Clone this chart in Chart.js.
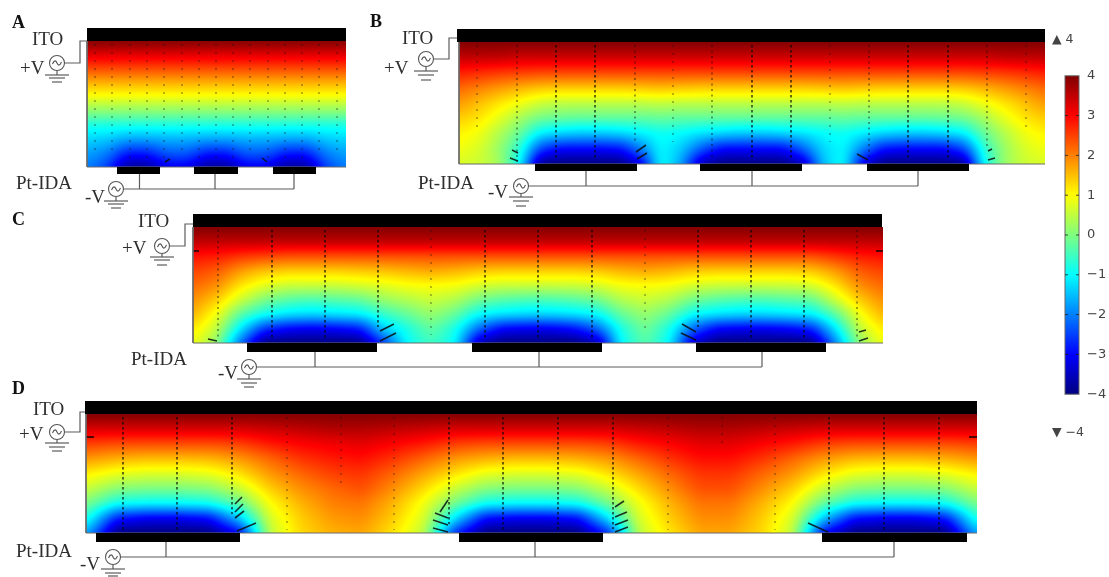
<!DOCTYPE html>
<html>
<head>
<meta charset="utf-8">
<script src="https://cdn.jsdelivr.net/npm/chart.js@4"></script>
<style>
html, body { margin: 0; padding: 0; background: #fff; }
#page { position: relative; width: 1109px; height: 577px; overflow: hidden; filter: blur(0.45px); }
#page canvas { position: absolute; }
.lbl { position: absolute; transform: translateY(-50%); white-space: nowrap; font-family: "Liberation Serif", serif; font-size: 19px; color: #2e2e2e; }
.pan { font-weight: bold; color: #111; font-size: 18px; }
.mm { font-family: "DejaVu Sans", sans-serif; font-size: 12.5px; color: #444; }
</style>
</head>
<body>
<div id="page"></div>
<script>
// potential (V), rows top -> bottom
var colsA = [0,20,40,60,80,100,120,139,159,179,199,219,239,259];
var rowsA = [0,14,28,42,56,70,84,98,112,126];
var fieldA = [
  [4,4,4,4,4,4,4,4,4,4,4,4,4,4],
  [3.2,3.2,3.2,3.2,3.2,3.2,3.2,3.2,3.2,3.2,3.2,3.2,3.2,3.2],
  [2.4,2.4,2.4,2.4,2.4,2.4,2.4,2.4,2.4,2.4,2.4,2.4,2.4,2.4],
  [1.6,1.6,1.6,1.6,1.6,1.6,1.6,1.6,1.6,1.6,1.6,1.6,1.6,1.6],
  [0.9,0.9,0.9,0.9,0.9,0.9,0.9,0.9,0.9,0.9,0.9,0.9,0.9,0.9],
  [0.1,0.1,0.1,0.1,0.1,0.1,0.1,0.1,0.1,0.1,0.1,0.1,0.1,0.1],
  [-0.8,-0.8,-0.8,-0.8,-0.8,-0.8,-0.8,-0.8,-0.8,-0.8,-0.8,-0.8,-0.8,-0.8],
  [-1.3,-1.4,-1.7,-1.7,-1.6,-1.6,-1.7,-1.7,-1.6,-1.6,-1.7,-1.7,-1.4,-1.3],
  [-1.7,-2,-2.8,-2.8,-2.3,-2.3,-2.8,-2.8,-2.3,-2.3,-2.8,-2.8,-2,-1.7],
  [-2,-2.5,-3.8,-3.8,-3.1,-3.1,-3.8,-3.8,-3.1,-3.1,-3.8,-3.8,-2.5,-2]
];

var colsB = [0,20,40,61,81,101,121,141,162,182,202,222,242,263,283,303,323,343,364,384,404,424,444,465,485,505,525,545,566,586];
var rowsB = [0,15,30,46,61,76,91,107,122];
var fieldB = [
  [4,4,4,4,4,4,4,4,4,4,4,4,4,4,4,4,4,4,4,4,4,4,4,4,4,4,4,4,4,4],
  [3.5,3.5,3.5,3.4,3.4,3.4,3.4,3.4,3.4,3.4,3.4,3.4,3.4,3.4,3.4,3.4,3.4,3.4,3.4,3.4,3.4,3.4,3.4,3.4,3.4,3.4,3.4,3.5,3.5,3.5],
  [2.8,2.7,2.6,2.55,2.5,2.5,2.5,2.5,2.5,2.5,2.5,2.5,2.5,2.5,2.5,2.5,2.5,2.5,2.5,2.5,2.5,2.5,2.5,2.5,2.5,2.5,2.55,2.6,2.7,2.8],
  [2.2,2,1.8,1.6,1.45,1.4,1.4,1.4,1.4,1.45,1.5,1.45,1.4,1.4,1.4,1.4,1.4,1.4,1.45,1.5,1.45,1.4,1.4,1.4,1.4,1.45,1.6,1.8,2,2.2],
  [1.8,1.5,1.2,0.9,0.6,0.5,0.5,0.5,0.5,0.5,0.55,0.5,0.5,0.5,0.5,0.5,0.5,0.5,0.5,0.55,0.5,0.5,0.5,0.5,0.5,0.6,0.9,1.2,1.5,1.8],
  [1.4,1.2,0.8,0.3,-0.1,-0.2,-0.25,-0.25,-0.25,-0.25,-0.2,-0.25,-0.25,-0.25,-0.25,-0.25,-0.25,-0.25,-0.25,-0.2,-0.25,-0.25,-0.25,-0.25,-0.2,-0.1,0.3,0.8,1.2,1.4],
  [1.1,0.9,0.4,-0.2,-1.1,-1.3,-1.4,-1.4,-1.3,-1.1,-0.9,-1,-1.2,-1.3,-1.4,-1.4,-1.3,-1.2,-1,-0.9,-1.1,-1.3,-1.4,-1.4,-1.3,-1.1,-0.2,0.4,0.9,1.1],
  [0.9,0.7,0.2,-0.7,-2.5,-3,-3,-3,-2.9,-2,-1,-1.4,-2.3,-3,-3,-3,-3,-2.3,-1.3,-1,-2,-2.9,-3,-3,-3,-2.5,-0.7,0.2,0.7,0.9],
  [0.7,0.6,0.3,-1,-3.9,-4,-4,-4,-4,-3.2,-0.9,-1.7,-3.6,-4,-4,-4,-4,-3.6,-1.5,-0.9,-3.2,-4,-4,-4,-4,-3.9,-1,0.2,0.6,0.7]
];

var colsC = [0,24,48,71,95,119,143,167,190,214,238,262,286,309,333,357,381,405,428,452,476,500,524,547,571,595,619,642,666,690];
var rowsC = [0,14.5,29,43.5,58,72.5,87,101.5,116];
var fieldC = [
  [4,4,4,4,4,4,4,4,4,4,4,4,4,4,4,4,4,4,4,4,4,4,4,4,4,4,4,4,4,4],
  [3.5,3.5,3.5,3.5,3.5,3.5,3.5,3.5,3.5,3.5,3.5,3.5,3.5,3.5,3.5,3.5,3.5,3.5,3.5,3.5,3.5,3.5,3.5,3.5,3.5,3.5,3.5,3.5,3.5,3.5],
  [2.9,2.8,2.6,2.5,2.4,2.4,2.4,2.4,2.4,2.4,2.4,2.4,2.4,2.4,2.4,2.4,2.4,2.4,2.4,2.4,2.4,2.4,2.4,2.4,2.4,2.4,2.4,2.6,2.8,2.9],
  [2.5,2.3,1.8,1.5,1.4,1.4,1.4,1.45,1.5,1.6,1.7,1.6,1.45,1.4,1.4,1.4,1.4,1.45,1.6,1.7,1.6,1.45,1.4,1.4,1.4,1.4,1.45,1.8,2.3,2.5],
  [2.2,1.9,1.2,0.8,0.6,0.6,0.6,0.7,0.8,0.95,1,0.95,0.7,0.6,0.6,0.6,0.6,0.7,0.95,1,0.95,0.7,0.6,0.6,0.6,0.6,0.7,1.2,1.9,2.2],
  [1.9,1.4,0.6,0,-0.3,-0.4,-0.3,-0.2,0.2,0.4,0.6,0.4,-0.1,-0.3,-0.4,-0.4,-0.3,-0.1,0.4,0.6,0.4,-0.1,-0.3,-0.4,-0.4,-0.3,-0.2,0.6,1.4,1.9],
  [1.6,0.9,-0.3,-0.9,-1.2,-1.3,-1.2,-1.1,-0.6,-0.2,0.2,-0.2,-1,-1.2,-1.3,-1.3,-1.2,-1,-0.2,0.2,-0.2,-1,-1.2,-1.3,-1.3,-1.2,-1.1,-0.3,0.9,1.6],
  [1.2,0.5,-1.2,-2.6,-3,-3.1,-3,-2.8,-1.4,-0.8,-0.2,-0.8,-2.2,-3,-3.1,-3.1,-2.9,-2.2,-0.8,-0.1,-0.8,-2.2,-3,-3.1,-3.1,-3,-2.7,-1.2,0.5,1.2],
  [0.9,0.1,-2.2,-4,-4,-4,-4,-4,-2.6,-1,-0.5,-1,-3.6,-4,-4,-4,-4,-3.6,-1,-0.3,-1,-3.4,-4,-4,-4,-4,-4,-2,0.1,0.9]
];

var colsD = [0,31,61,92,123,154,184,215,246,276,307,338,369,399,430,461,492,522,553,584,614,645,676,707,737,768,799,829,860,891];
var rowsD = [0,15,30,45,60,74,89,104,119];
var fieldD = [
  [4,4,4,4,4,4,4,4,4,4,4,4,4,4,4,4,4,4,4,4,4,4,4,4,4,4,4,4,4,4],
  [3.3,3.3,3.3,3.3,3.3,3.3,3.4,3.5,3.6,3.6,3.5,3.4,3.3,3.3,3.3,3.3,3.3,3.3,3.4,3.5,3.6,3.6,3.5,3.4,3.3,3.3,3.3,3.3,3.3,3.3],
  [2.5,2.4,2.4,2.4,2.4,2.5,2.8,3,3.1,3.2,3,2.8,2.5,2.4,2.4,2.4,2.4,2.5,2.8,3,3.2,3.2,3,2.8,2.5,2.4,2.4,2.4,2.4,2.5],
  [1.8,1.6,1.5,1.5,1.55,1.8,2.2,2.6,2.8,2.9,2.6,2.2,1.8,1.6,1.5,1.5,1.6,1.8,2.2,2.6,2.9,2.9,2.6,2.2,1.8,1.55,1.5,1.5,1.6,1.8],
  [1.1,0.8,0.7,0.7,0.8,1.2,1.8,2.2,2.5,2.6,2.2,1.7,1.2,0.8,0.7,0.7,0.8,1.2,1.7,2.2,2.6,2.6,2.2,1.8,1.2,0.8,0.7,0.7,0.8,1.1],
  [0.6,0.1,0,0,0.1,0.6,1.4,1.9,2.2,2.4,1.9,1.3,0.6,0.1,0,0,0.1,0.6,1.3,1.9,2.4,2.4,1.9,1.4,0.6,0.1,0,0,0.1,0.6],
  [0,-0.9,-1,-1,-0.9,-0.2,1,1.6,2,2.1,1.6,0.9,-0.1,-0.9,-1,-1,-0.9,-0.1,0.9,1.6,2.1,2.1,1.6,1,-0.2,-0.9,-1,-1,-0.9,0],
  [-0.7,-2.8,-3.1,-3.1,-2.9,-1.4,0.7,1.4,1.8,1.9,1.4,0.7,-1.2,-2.9,-3.1,-3.1,-2.9,-1.2,0.7,1.4,1.9,1.9,1.4,0.7,-1.4,-2.9,-3.1,-3.1,-2.8,-0.7],
  [-1.6,-4,-4,-4,-4,-3,0.5,1.3,1.6,1.7,1.2,0.5,-2.7,-4,-4,-4,-4,-2.7,0.5,1.2,1.7,1.7,1.3,0.5,-3,-4,-4,-4,-4,-1.6]
];

// electrode extents along x
var electrodesA = [[30,73],[107,151],[186,229]];
var electrodesB = [[76,178],[241,343],[408,510]];
var electrodesC = [[54,184],[279,409],[503,633]];
var electrodesD = [[10,154],[373,517],[736,881]];

// field arrow columns: x, last y, weight 0 faint / 1 medium / 2 strong
var arrowColsA = [[8,112,0],[25,112,0],[43,118,0],[60,118,0],[77,118,0],[95,112,0],[112,118,0],[129,118,0],[146,118,0],[163,112,0],[181,118,0],[198,118,0],[215,118,0],[232,112,0],[250,112,0]];
var arrowColsB = [[18,85,0],[58,120,1],[97,118,2],[136,118,2],[176,100,1],[214,100,0],[253,118,1],[293,118,2],[332,118,2],[371,100,0],[410,118,1],[449,118,2],[489,118,2],[528,104,1],[567,85,0]];
var arrowColsC = [[25,112,1],[79,113,2],[132,113,2],[185,100,2],[238,108,0],[292,113,2],[345,113,2],[399,113,2],[452,105,0],[505,100,2],[558,113,2],[611,113,2],[664,112,1]];
var arrowColsD = [[37,116,2],[91,116,2],[146,100,2],[201,116,0],[255,72,0],[308,116,0],[363,110,2],[417,116,2],[472,116,2],[527,115,2],[582,116,0],[636,30,0],[689,116,0],[743,110,2],[798,116,2],[853,116,2]];

// slanted arrows near the electrode edges: x1,y1,x2,y2
var slantsA = [[78,121,83,118],[175,117,180,121]];
var slantsB = [[177,110,187,103],[178,117,188,111],[51,116,59,119],[53,108,59,111],[398,112,409,118],[529,118,536,116],[529,109,533,107]];
var slantsC = [[187,104,201,97],[187,114,203,106],[489,97,503,105],[488,106,503,113],[15,112,24,114],[666,114,675,111],[666,105,673,103]];
var slantsD = [[151,117,170,109],[149,104,158,97],[149,98,157,90],[149,90,156,83],[347,106,362,111],[347,114,362,118],[349,99,362,104],[354,98,362,86],[529,111,542,106],[529,118,542,113],[529,103,541,98],[529,93,538,87],[722,109,742,118]];

// colour legend
var colorTicks = [4,3,2,1,0,-1,-2,-3,-4];
var colorValues = [-4,-3,-1,1,3,4];
var colorNames = ['#000080','#0000ff','#00ffff','#ffff00','#ff0000','#800000'];

var labels = [
  ['A',12,22,'pan'],['ITO',32,39],['+V',20,68],['Pt-IDA',16,183],['-V',85,197],
  ['B',370,21,'pan'],['ITO',402,38],['+V',384,68],['Pt-IDA',418,183],['-V',488,192],
  ['C',12,219,'pan'],['ITO',138,221],['+V',122,248],['Pt-IDA',131,359],['-V',218,373],
  ['D',12,388,'pan'],['ITO',33,409],['+V',19,434],['Pt-IDA',16,551],['-V',80,564],
  ['▲ 4',1052,38,'mm'],['▼ −4',1052,431,'mm']
];

var page = document.getElementById('page');

labels.forEach(function(l) {
    var d = document.createElement('div');
    d.className = 'lbl ' + (l[3] || '');
    d.textContent = l[0];
    d.style.left = l[1] + 'px';
    d.style.top = l[2] + 'px';
    page.appendChild(d);
});

function hexRgb(h) {
    return [parseInt(h.substr(1,2),16), parseInt(h.substr(3,2),16), parseInt(h.substr(5,2),16)];
}
var stopRgb = colorNames.map(hexRgb);

function jet(v) {
    if (v <= colorValues[0]) return stopRgb[0];
    for (var i = 1; i < colorValues.length; i++) {
        if (v <= colorValues[i]) {
            var t = (v - colorValues[i-1]) / (colorValues[i] - colorValues[i-1]);
            var a = stopRgb[i-1], b = stopRgb[i];
            return [a[0]+(b[0]-a[0])*t, a[1]+(b[1]-a[1])*t, a[2]+(b[2]-a[2])*t];
        }
    }
    return stopRgb[stopRgb.length-1];
}

// evens out the value grid so the shading is not faceted
function smooth(vals, w, h, rx, ry) {
    var out = new Float32Array(w*h);
    for (var y = 0; y < h; y++) for (var x = 0; x < w; x++) {
        var s = 0, n = 0;
        for (var k = -rx; k <= rx; k++) { s += vals[y*w + Math.min(w-1, Math.max(0, x+k))]; n++; }
        out[y*w+x] = s/n;
    }
    var res = new Float32Array(w*h);
    for (var x2 = 0; x2 < w; x2++) for (var y2 = 0; y2 < h; y2++) {
        var s2 = 0, n2 = 0;
        for (var j = -ry; j <= ry; j++) { s2 += out[Math.min(h-1, Math.max(0, y2+j))*w + x2]; n2++; }
        res[y2*w+x2] = s2/n2;
    }
    return res;
}

// paints dataset 'field' through the chart's scales
var heatPlugin = {
    id: 'heat',
    beforeDatasetsDraw: function(chart) {
        var ds = chart.data.datasets.find(function(d) { return d.heat; });
        if (!ds) return;
        var xs = ds.cols.map(function(c) { return chart.scales.x.getPixelForValue(c); });
        var ys = ds.rows.map(function(r) { return chart.scales.y.getPixelForValue(r); });
        var nc = xs.length;
        var a = chart.chartArea;
        var w = Math.round(a.right - a.left), h = Math.round(a.bottom - a.top);
        var vals = new Float32Array(w*h);
        var jr = 0;
        for (var py = 0; py < h; py++) {
            var Y = a.top + py + 0.5;
            while (jr < ys.length-2 && Y > ys[jr+1]) jr++;
            var ty = Math.min(1, Math.max(0, (Y - ys[jr]) / (ys[jr+1] - ys[jr])));
            var ir = 0;
            for (var px = 0; px < w; px++) {
                var X = a.left + px + 0.5;
                while (ir < nc-2 && X > xs[ir+1]) ir++;
                var tx = Math.min(1, Math.max(0, (X - xs[ir]) / (xs[ir+1] - xs[ir])));
                var v00 = ds.data[jr*nc+ir].v, v10 = ds.data[jr*nc+ir+1].v;
                var v01 = ds.data[(jr+1)*nc+ir].v, v11 = ds.data[(jr+1)*nc+ir+1].v;
                vals[py*w+px] = (v00*(1-tx)+v10*tx)*(1-ty) + (v01*(1-tx)+v11*tx)*ty;
            }
        }
        vals = smooth(smooth(vals, w, h, 6, 3), w, h, 5, 2);
        var off = document.createElement('canvas');
        off.width = w; off.height = h;
        var oc = off.getContext('2d');
        var img = oc.createImageData(w, h);
        for (var i = 0; i < w*h; i++) {
            var c = jet(vals[i]);
            img.data[i*4] = c[0]; img.data[i*4+1] = c[1]; img.data[i*4+2] = c[2]; img.data[i*4+3] = 255;
        }
        oc.putImageData(img, 0, 0);
        chart.ctx.drawImage(off, a.left, a.top);
    },
    // points outside the chart area are skipped by the library, so the AC sources go here
    afterDatasetsDraw: function(chart) {
        chart.data.datasets.forEach(function(d) {
            if (!d.source) return;
            d.data.forEach(function(p) {
                var px = chart.scales.x.getPixelForValue(p.x);
                var py = chart.scales.y.getPixelForValue(p.y);
                chart.ctx.drawImage(symbol, px - 9, py - 9);
            });
        });
    }
};

// symbol of the AC source
function sourceSymbol() {
    var c = document.createElement('canvas');
    c.width = 18; c.height = 18;
    var g = c.getContext('2d');
    g.strokeStyle = '#555';
    g.lineWidth = 1.1;
    g.fillStyle = '#fff';
    g.beginPath(); g.arc(9, 9, 7.5, 0, Math.PI*2); g.fill(); g.stroke();
    g.beginPath();
    g.moveTo(4.5, 10);
    g.bezierCurveTo(6.5, 5.5, 8, 6.5, 9, 9);
    g.bezierCurveTo(10, 11.5, 11.5, 12.5, 13.5, 8);
    g.stroke();
    return c;
}
var symbol = sourceSymbol();

function line(points, color, width, dash) {
    return { data: points.map(function(p) { return {x:p[0], y:p[1]}; }), showLine: true, pointRadius: 0,
             borderColor: color, borderWidth: width, borderDash: dash || [], clip: false,
             borderCapStyle: 'butt', tension: 0 };
}

function buildPanel(p) {
    var data = [];
    p.rows.forEach(function(r, j) {
        p.cols.forEach(function(c, i) { data.push({x:c, y:r, v:p.field[j][i]}); });
    });
    var W = p.cols[p.cols.length-1], H = p.rows[p.rows.length-1];
    var sets = [];
    var wire = '#5c5c5c';

    sets.push({ source: true, data: [{x:p.top[0], y:p.top[1]}, {x:p.bottom[0], y:p.bottom[1]}], showLine: false, pointRadius: 0 });

    p.slants.forEach(function(s) {
        sets.push(line([[s[0],s[1]],[s[2],s[3]]], 'rgba(10,15,15,0.85)', 1.6));
    });
    p.arrows.forEach(function(a) {
        var style = [['rgba(20,20,20,0.5)',1.2,[2,6]], ['rgba(15,15,15,0.6)',1.3,[2,3.5]], ['rgba(5,10,10,0.75)',1.6,[2.5,2.5]]][a[2]];
        sets.push(line([[a[0],3],[a[0],a[1]]], style[0], style[1], style[2]));
    });

    // ITO plate and IDA electrodes
    sets.push(line([[p.itoFrom,-p.itoH/2],[W+p.itoExtra,-p.itoH/2]], '#000', p.itoH));
    p.electrodes.forEach(function(e) {
        sets.push(line([[e[0],H+p.elecH/2],[e[1],H+p.elecH/2]], '#000', p.elecH));
    });

    // outline of the cell
    sets.push(line([[0,0],[0,H],[W,H]], '#6a6a6a', 1));

    // wiring, plate end first: a left to right list gets trimmed at the scale minimum
    sets.push(line([[p.itoFrom,p.topJoin],[p.topBend,p.topJoin],[p.topBend,p.top[1]],[p.top[0]+8,p.top[1]]], wire, 1.2));
    sets.push(line([[p.bottom[0]+8,p.bottom[1]],[p.stems[2],p.bottom[1]]], wire, 1.2));
    p.stems.forEach(function(s) {
        sets.push(line([[s,H+p.elecH],[s,p.bottom[1]]], wire, 1.2));
    });
    [p.top, p.bottom].forEach(function(src, n) {
        var g = n === 0 ? p.groundTop : p.groundBottom;
        sets.push(line([[src[0],src[1]+8],[src[0],g[0]]], wire, 1.2));
        sets.push(line([[src[0]-12,g[0]],[src[0]+12,g[0]]], wire, 1.2));
        sets.push(line([[src[0]-8,g[1]],[src[0]+8,g[1]]], wire, 1.2));
        sets.push(line([[src[0]-5,g[2]],[src[0]+5,g[2]]], wire, 1.2));
    });
    (p.marks || []).forEach(function(m) {
        sets.push(line([[m[0],m[1]],[m[2],m[1]]], '#200', 1.6));
    });

    sets.push({ heat: true, cols: p.cols, rows: p.rows, data: data, pointRadius: 0, showLine: false });

    var c = document.createElement('canvas');
    c.width = p.box[2]; c.height = p.box[3];
    c.style.left = p.box[0] + 'px';
    c.style.top = p.box[1] + 'px';
    page.appendChild(c);

    new Chart(c.getContext('2d'), {
        type: 'scatter',
        data: { datasets: sets },
        plugins: [heatPlugin],
        options: {
            responsive: false,
            animation: false,
            events: [],
            layout: { padding: {
                left: p.origin[0] - p.box[0],
                top: p.origin[1] - p.box[1],
                right: p.box[0] + p.box[2] - p.origin[0] - W,
                bottom: p.box[1] + p.box[3] - p.origin[1] - H
            } },
            plugins: { legend: { display: false }, tooltip: { enabled: false } },
            scales: {
                x: { display: false, type: 'linear', min: 0, max: W },
                y: { display: false, type: 'linear', min: 0, max: H, reverse: true }
            }
        }
    });
}

buildPanel({ box:[0,0,370,210], origin:[87,41], cols:colsA, rows:rowsA, field:fieldA, electrodes:electrodesA,
    arrows:arrowColsA, slants:slantsA, itoFrom:0, itoExtra:0, itoH:13, elecH:7,
    top:[-30,22], topBend:-7, topJoin:0, groundTop:[34,37,41],
    bottom:[29,148], stems:[52.5,128,207], groundBottom:[160,163,167] });

buildPanel({ box:[370,0,700,210], origin:[459,42], cols:colsB, rows:rowsB, field:fieldB, electrodes:electrodesB,
    arrows:arrowColsB, slants:slantsB, itoFrom:-2, itoExtra:0, itoH:13, elecH:7,
    top:[-33,17], topBend:-10, topJoin:-4, groundTop:[29,33,38],
    bottom:[62,144], stems:[127,293,459], groundBottom:[155,159,164] });

buildPanel({ box:[100,205,800,185], origin:[193,227], cols:colsC, rows:rowsC, field:fieldC, electrodes:electrodesC,
    arrows:arrowColsC, slants:slantsC, itoFrom:0, itoExtra:-1, itoH:13, elecH:9,
    top:[-31,19], topBend:-8, topJoin:-3, groundTop:[30,33,38],
    bottom:[56,140], stems:[122,346,569], groundBottom:[152,156,160],
    marks:[[0,24,6],[683,24,690]] });

buildPanel({ box:[0,385,1000,192], origin:[86,414], cols:colsD, rows:rowsD, field:fieldD, electrodes:electrodesD,
    arrows:arrowColsD, slants:slantsD, itoFrom:-1, itoExtra:0, itoH:13, elecH:9,
    top:[-29,18], topBend:-6, topJoin:-2, groundTop:[29,33,37],
    bottom:[27,143], stems:[80,449,808], groundBottom:[155,159,162],
    marks:[[0,23,8],[883,23,891]] });

// colour legend with its own axis
var barPlugin = {
    id: 'bar',
    beforeDatasetsDraw: function(chart) {
        var a = chart.chartArea, y = chart.scales.y, g = chart.ctx;
        var grad = g.createLinearGradient(0, y.getPixelForValue(-4), 0, y.getPixelForValue(4));
        colorValues.forEach(function(v, i) { grad.addColorStop((v+4)/8, colorNames[i]); });
        g.fillStyle = grad;
        g.fillRect(a.left, a.top, a.right-a.left, a.bottom-a.top);
        g.strokeStyle = '#666';
        g.lineWidth = 1;
        g.strokeRect(a.left, a.top, a.right-a.left, a.bottom-a.top);
        g.strokeStyle = 'rgba(30,30,30,0.8)';
        colorTicks.forEach(function(v) {
            if (v === 4 || v === -4) return;
            var p = y.getPixelForValue(v);
            g.beginPath();
            g.moveTo(a.left, p); g.lineTo(a.left+3, p);
            g.moveTo(a.right-3, p); g.lineTo(a.right, p);
            g.stroke();
        });
    }
};
var barCanvas = document.createElement('canvas');
barCanvas.width = 64; barCanvas.height = 350;
barCanvas.style.left = '1045px';
barCanvas.style.top = '60px';
page.appendChild(barCanvas);
new Chart(barCanvas.getContext('2d'), {
    type: 'scatter',
    data: { datasets: [{ data: colorValues.map(function(v) { return {x:0.5, y:v}; }), pointRadius: 0 }] },
    plugins: [barPlugin],
    options: {
        responsive: false,
        animation: false,
        events: [],
        layout: { padding: { left: 20, top: 15, bottom: 15, right: 0 } },
        plugins: { legend: { display: false }, tooltip: { enabled: false } },
        scales: {
            x: { display: false, min: 0, max: 1 },
            y: {
                position: 'right', min: -4, max: 4,
                afterFit: function(s) { s.width = 30; },
                afterBuildTicks: function(s) { s.ticks = colorTicks.map(function(v) { return {value:v}; }); },
                grid: { display: false, drawTicks: false },
                border: { display: false },
                ticks: {
                    padding: 8,
                    color: '#444',
                    font: { family: 'DejaVu Sans', size: 13 },
                    callback: function(v) { return String(v).replace('-', '−'); }
                }
            }
        }
    }
});
</script>
</body>
</html>
